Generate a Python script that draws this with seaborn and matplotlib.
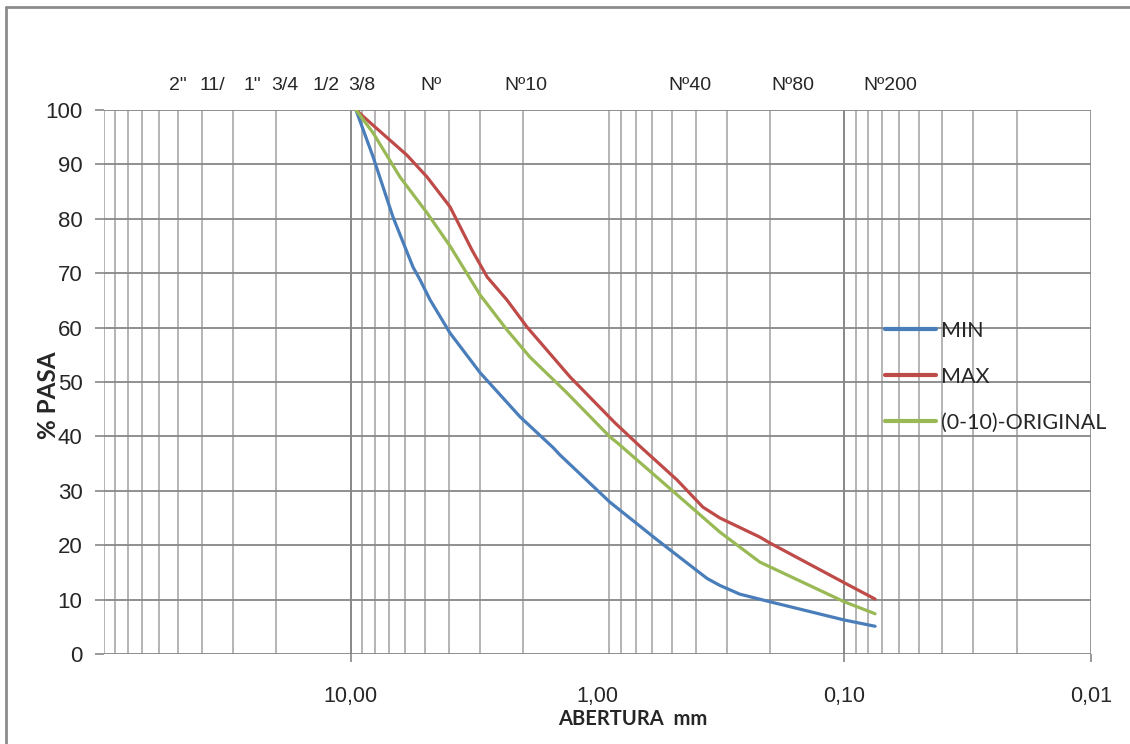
import numpy as np
import pandas as pd
import matplotlib
matplotlib.use("Agg")
import matplotlib.pyplot as plt
from matplotlib.lines import Line2D
import seaborn as sns

# ---------------- data ----------------
min_x = [9.525, 8.12, 6.74, 5.59, 5.24, 4.77, 3.96, 2.99, 2.06, 1.51, 1.42, 0.89, 0.574, 0.36, 0.319, 0.265, 0.2, 0.1, 0.075]
min_y = [100, 91.4, 80.3, 71.1, 68.8, 65.1, 59.0, 51.7, 43.6, 37.9, 36.6, 27.9, 21.0, 13.9, 12.6, 11.0, 9.6, 6.25, 5.1]

max_x = [9.525, 8.12, 5.92, 4.91, 3.96, 3.23, 2.80, 2.33, 1.93, 1.29, 0.85, 0.67, 0.476, 0.374, 0.319, 0.22, 0.2, 0.1, 0.075]
max_y = [100, 97.2, 91.7, 87.7, 82.2, 74.3, 69.3, 65.1, 60.1, 50.9, 42.5, 38.1, 32.0, 27.0, 25.0, 21.5, 20.4, 13.1, 10.1]

orig_x = [9.525, 8.12, 6.32, 4.91, 3.96, 2.99, 2.33, 1.88, 1.33, 0.89, 0.83, 0.558, 0.319, 0.22, 0.1, 0.075]
orig_y = [100, 95.8, 87.7, 81.1, 75.0, 66.0, 59.6, 54.6, 48.0, 39.9, 38.8, 32.0, 22.4, 16.9, 9.6, 7.4]

series_names = ["MIN", "MAX", "(0-10)-ORIGINAL"]
series_colors = ["#4A7EBB", "#BE4B48", "#98B954"]

sieve_labels = ['2"', '11/', '1"', '3/4', '1/2', '3/8', 'Nº', 'Nº10', 'Nº40', 'Nº80', 'Nº200']
sieve_sizes = [50.8, 38.1, 25.4, 19.05, 12.7, 9.525, 4.75, 2.0, 0.425, 0.18, 0.075]
sieve_label_offset_px = [1, 5, 1, 3, 1, 6, 0, 3, 1, 12, 15]

xtick_values = [10, 1, 0.1, 0.01]
xtick_labels = ["10,00", "1,00", "0,10", "0,01"]
ytick_values = list(range(0, 101, 10))

# ---------------- build frame ----------------
frames = []
for name, xs, ys in zip(series_names, [min_x, max_x, orig_x], [min_y, max_y, orig_y]):
    frames.append(pd.DataFrame({"abertura": xs, "pasa": ys, "serie": name}))
df = pd.concat(frames, ignore_index=True)

sns.set_style("white")
plt.rcParams["font.family"] = ["Liberation Sans", "DejaVu Sans"]

W, H = 1130, 744
fig = plt.figure(figsize=(W / 100, H / 100), dpi=100)
ax_left, ax_right, ax_top, ax_bottom = 104, 1091, 110, 654
ax = fig.add_axes([ax_left / W, 1 - ax_bottom / H, (ax_right - ax_left) / W, (ax_bottom - ax_top) / H])

ax.set_xscale("log")
ax.set_xlim(100, 0.01)
ax.set_ylim(0, 100)

grid_light = "#B4B4B4"
grid_dark = "#878787"

# vertical grid lines (log minor grid; major at 10 and 0.1 darker, none at 1)
for dec in [0.01, 0.1, 1, 10]:
    for k in range(2, 10):
        ax.axvline(k * dec, color=grid_light, lw=1.4, zorder=0)
ax.axvline(100, color=grid_light, lw=1.4, zorder=0)
ax.axvline(0.01, color=grid_dark, lw=1.2, zorder=0)
ax.axvline(10, color=grid_dark, lw=1.4, zorder=0)
ax.axvline(0.1, color=grid_dark, lw=1.4, zorder=0)

# horizontal grid lines
for v in ytick_values:
    ax.axhline(v, color=grid_dark, lw=1.3, zorder=0)

sns.lineplot(data=df, x="abertura", y="pasa", hue="serie", hue_order=series_names,
             palette=series_colors, sort=False, estimator=None, units="serie",
             lw=2.3, ax=ax, legend=True, zorder=3)

for s in ax.spines.values():
    s.set_visible(False)

ax.set_xticks(xtick_values)
ax.set_xticklabels(xtick_labels)
ax.xaxis.set_minor_locator(matplotlib.ticker.NullLocator())
ax.set_yticks(ytick_values)
ax.set_yticklabels([str(v) for v in ytick_values])
ax.tick_params(axis="x", which="major", length=6, width=1.2, color=grid_dark,
               pad=17, labelsize=15.5, direction="out", bottom=True)
ax.tick_params(axis="y", which="major", length=6.5, width=1.2, color=grid_dark,
               pad=9, labelsize=16, direction="out", left=True)
ax.xaxis.get_major_ticks()[1].tick1line.set_visible(False)

ax.set_xlabel("ABERTURA  mm", fontsize=14.5, fontweight="bold", family=["Lato", "DejaVu Sans"])
ax.xaxis.set_label_coords((633 - ax_left) / (ax_right - ax_left), -(719 - ax_bottom) / (ax_bottom - ax_top))
ax.set_ylabel("% PASA", fontsize=17.5, fontweight="bold", family=["Lato", "DejaVu Sans"])
ax.yaxis.set_label_coords((48 - ax_left) / (ax_right - ax_left), (ax_bottom - 395) / (ax_bottom - ax_top))
ax.xaxis.label.set_va("center")
ax.yaxis.label.set_va("center")

# sieve labels above the plot
trans = matplotlib.transforms.blended_transform_factory(ax.transData, ax.transAxes)
for lab, size, off in zip(sieve_labels, sieve_sizes, sieve_label_offset_px):
    ax.annotate(lab, xy=(size, (ax_bottom - 85) / (ax_bottom - ax_top)), xycoords=trans,
                xytext=(off * 0.72, 0), textcoords="offset points",
                ha="center", va="center", fontsize=14, annotation_clip=False)

# legend
handles, labels = ax.get_legend_handles_labels()
leg = ax.legend(handles, labels, loc="upper left",
                bbox_to_anchor=(885 / W, 1 - 321 / H), bbox_transform=fig.transFigure,
                frameon=False, handlelength=2.37, handletextpad=0.23,
                labelspacing=1.2, borderpad=0, borderaxespad=0,
                prop={"family": ["Lato", "DejaVu Sans"], "size": 15.5})
for lh in leg.get_lines():
    lh.set_linewidth(3)

# figure frame (left and top edges)
fig.add_artist(Line2D([6 / W, 6 / W], [0, 1 - 7 / H], color="#8C8C8C", lw=2))
fig.add_artist(Line2D([6 / W, 1], [1 - 7 / H, 1 - 7 / H], color="#8C8C8C", lw=2))

fig.savefig("out.png", dpi=100)
